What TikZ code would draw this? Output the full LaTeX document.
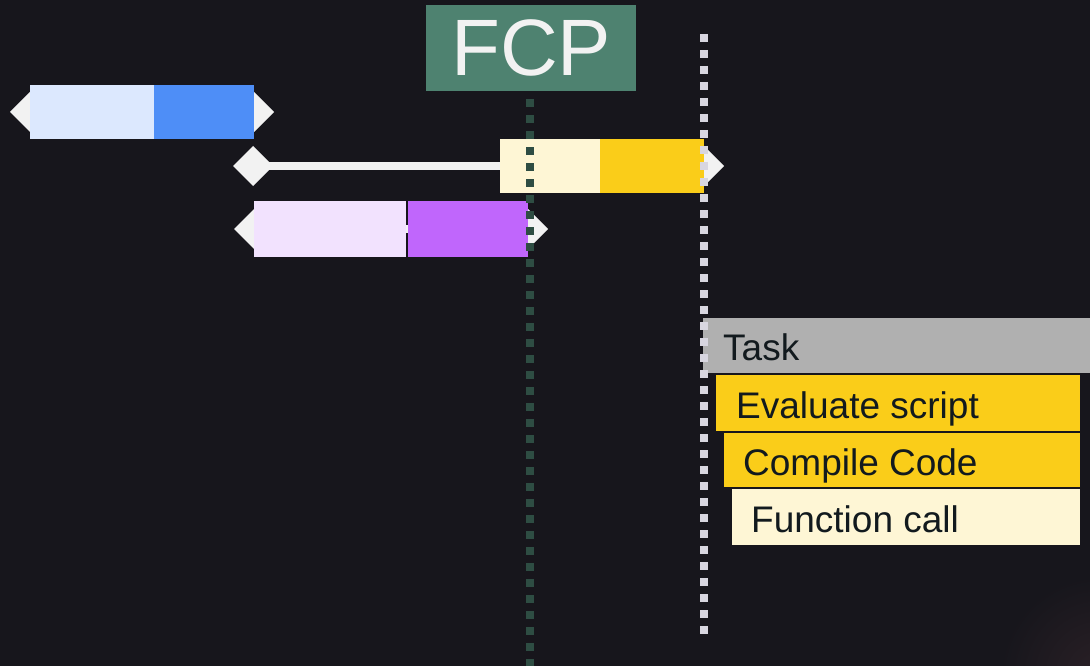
\documentclass[tikz,border=0pt]{standalone}
\usepackage{fontspec}
\setmainfont{Liberation Sans}
\usetikzlibrary{shapes.geometric}
\definecolor{bg}{HTML}{17161C}
\definecolor{wht}{HTML}{F2F2F2}
\definecolor{bluelt}{HTML}{DCE8FE}
\definecolor{bluedk}{HTML}{4E8EF7}
\definecolor{ylwlt}{HTML}{FEF6D5}
\definecolor{ylwdk}{HTML}{FACD19}
\definecolor{purlt}{HTML}{F2E2FE}
\definecolor{purdk}{HTML}{C066FC}
\definecolor{fcpgreen}{HTML}{4E8270}
\definecolor{fcpline}{HTML}{2E4D43}
\definecolor{greydot}{HTML}{D8D6E0}
\definecolor{taskgrey}{HTML}{B0B0B0}
\definecolor{txt}{HTML}{121A1E}
\definecolor{glow}{HTML}{2A2026}
\begin{document}
\begin{tikzpicture}[x=1pt,y=-1pt,
  bar/.style={rectangle,inner sep=0pt,outer sep=0pt,anchor=north west,minimum height=54pt},
  dia/.style={diamond,fill=wht,inner sep=0pt,outer sep=0pt,minimum width=40pt,minimum height=40pt},
  conn/.style={draw=wht,line width=8pt},
  rowbox/.style={rectangle,inner sep=0pt,outer sep=0pt,anchor=north west},
  rowtxt/.style={inner sep=0pt,anchor=base west,text=txt,font=\fontsize{37}{40}\selectfont},
  dots/.style={line width=8pt,dash pattern=on 8pt off 8pt}
]
\fill[bg] (0,0) rectangle (1090,666);
\useasboundingbox (0,0) rectangle (1090,666);
\begin{scope}
\clip (0,0) rectangle (1090,666);
\shade[inner color=glow,outer color=bg] (1100,676) circle (100);
\end{scope}

% blue row
\node[dia] (bl) at (30,112) {};
\node[dia] (br) at (254,112) {};
\node[bar,fill=bluelt,minimum width=124pt] (b1) at (30,85) {};
\node[bar,fill=bluedk,minimum width=100pt] (b2) at (154,85) {};

% yellow row
\node[dia] (yl) at (253,166) {};
\node[dia] (yr) at (704,166) {};
\node[bar,fill=ylwlt,minimum width=100pt] (y1) at (500,139) {};
\node[bar,fill=ylwdk,minimum width=104pt] (y2) at (600,139) {};
\draw[conn] (yl.center) -- (y1.west);

% purple row
\node[dia] (pl) at (254,229) {};
\node[dia] (pr) at (528,229) {};
\draw[conn] (pl.center) -- (pr.center);
\node[bar,fill=purlt,minimum width=152pt,minimum height=56pt] (p1) at (254,201) {};
\node[bar,fill=purdk,minimum width=120pt,minimum height=56pt] (p2) at (408,201) {};

% FCP
\node[rectangle,fill=fcpgreen,inner sep=0pt,minimum width=210pt,minimum height=86pt,anchor=north west,
  text=wht,font=\fontsize{80}{80}\selectfont] (fcp) at (426,5) {FCP};
\coordinate (fcpend) at (530,666);
\draw[dots,fcpline,dash phase=8pt] (fcp.south -| fcpend) -- (fcpend);

% task list
\node[rowbox,fill=taskgrey,minimum width=387pt,minimum height=55pt] (task) at (703,318) {};
\node[rowtxt] at (723,360) {Task};
\node[rowbox,fill=ylwdk,minimum width=364pt,minimum height=56pt] (eval) at (716,375) {};
\node[rowtxt] at (736,418) {Evaluate script};
\node[rowbox,fill=ylwdk,minimum width=356pt,minimum height=54pt] (comp) at (724,433) {};
\node[rowtxt] at (743,475) {Compile Code};
\node[rowbox,fill=ylwlt,minimum width=348pt,minimum height=56pt] (func) at (732,489) {};
\node[rowtxt] at (751,532) {Function call};

% grey dotted line
\coordinate (gtop) at (704,34);
\coordinate (gbot) at (704,634);
\draw[dots,greydot] (gtop) -- (gbot);
\end{tikzpicture}
\end{document}
